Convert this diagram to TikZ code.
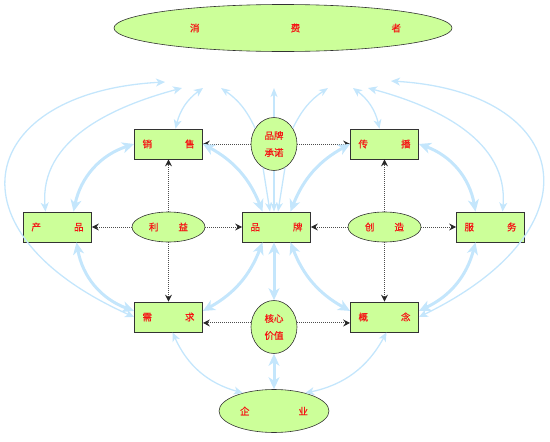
\documentclass[tikz,border=0pt]{standalone}
\usepackage{fontspec}
\newfontfamily\cjk[FakeBold=0.6]{Noto Sans CJK SC}
\usepackage{xcolor}
\usepackage{tikz}
\usetikzlibrary{positioning, arrows.meta, shapes.geometric}

\definecolor{leaf}{RGB}{204,255,153}
\definecolor{sky}{RGB}{196,230,252}
\definecolor{mark}{RGB}{245,20,20}
\newcommand{\pair}[3][52pt]{\makebox[#1]{#2\hfill #3}}

\begin{document}
\begin{tikzpicture}[
      x=1pt, y=-1pt, on grid,
      txt/.style={font=\cjk\fontsize{9.5}{17}\selectfont, text=mark},
      box/.style={txt, draw=black!80, line width=0.8pt, fill=leaf, minimum width=68pt, minimum height=30pt, inner sep=0pt},
      oval/.style={txt, ellipse, draw=black!80, line width=0.6pt, fill=leaf, minimum width=73pt, minimum height=30pt, inner sep=0pt},
      round/.style={oval, minimum width=46pt, minimum height=53pt, align=center},
      dotarr/.style={black!70, line width=0.9pt, dash pattern=on 1pt off 1pt, -{Stealth[length=7pt, width=7pt, inset=2.5pt, black!85]}},
      blink/.style={sky, line width=1.3pt, {Stealth[length=9pt, width=8pt, inset=2.5pt]}-{Stealth[length=9pt, width=8pt, inset=2.5pt]}},
      bray/.style={sky, line width=1.3pt, -{Stealth[length=9pt, width=7pt, inset=2.5pt]}},
      bbond/.style={sky, line width=3pt, {Stealth[length=12pt, width=11pt, inset=3.5pt]}-{Stealth[length=12pt, width=11pt, inset=3.5pt]}}
    ]
    \useasboundingbox (0,0) rectangle (550,442);

    \node[box] (pinpai) at (276.5,227) {\pair{品}{牌}};
    \node[oval, left=108pt of pinpai] (liyi) {\pair[39pt]{利}{益}};
    \node[oval, right=108pt of pinpai] (chuangzao) {\pair[39pt]{创}{造}};
    \node[box, left=111pt of liyi] (chanpin) {\pair{产}{品}};
    \node[box, right=106pt of chuangzao] (fuwu) {\pair{服}{务}};
    \node[box, above=83pt of liyi] (xiaoshou) {\pair{销}{售}};
    \node[box, above=83pt of chuangzao] (chuanbo) {\pair{传}{播}};
    \node[box, below=90pt of liyi] (xuqiu) {\pair{需}{求}};
    \node[box, below=90pt of chuangzao] (gainian) {\pair{概}{念}};
    \node[round, above left=83pt and 2.5pt of pinpai] (chengnuo) {品牌\\承诺};
    \node[round, below left=100pt and 2.5pt of pinpai] (hexin) {核心\\价值};
    \node[oval, minimum width=110pt, minimum height=43pt, below=84pt of hexin] (qiye) {\pair[68pt]{企}{业}};
    \node[oval, minimum width=338pt, minimum height=47pt, above right=116pt and 9pt of chengnuo] (xiaofei)
      {\hspace*{25pt}\pair[211pt]{消\hfill 费}{者}};

    % free ends below the consumer
    \coordinate (tA) at (165,82);
    \coordinate (tB) at (182,88);
    \coordinate (tC) at (203,88);
    \coordinate (tD) at (221,88);
    \coordinate (tE) at (274,88);
    \coordinate (tF) at (328,88);
    \coordinate (tG) at (353,88);
    \coordinate (tH) at (368,88);
    \coordinate (tI) at (391,81);

    % dotted arrows
    \draw[dotarr] (liyi) -- (xiaoshou);
    \draw[dotarr] (liyi) -- (chanpin);
    \draw[dotarr] (liyi) -- (pinpai);
    \draw[dotarr] (liyi) -- (xuqiu);
    \draw[dotarr] (chuangzao) -- (chuanbo);
    \draw[dotarr] (chuangzao) -- (fuwu);
    \draw[dotarr] (chuangzao) -- (pinpai);
    \draw[dotarr] (chuangzao) -- (gainian);
    \draw[dotarr] (chengnuo) -- (xiaoshou);
    \draw[dotarr] (chengnuo) -- (chuanbo);
    \draw[dotarr] (hexin.170) -- (hexin.170 -| xuqiu.east);
    \draw[dotarr] (hexin.10) -- (hexin.10 -| gainian.west);

    % thick links
    \draw[bbond] (xiaoshou.west) to[bend right=30] ([xshift=16pt]chanpin.north);
    \draw[bbond] ([xshift=19pt]chanpin.south) to[bend right=30] (xuqiu.170);
    \draw[bbond] (xiaoshou.east) to[bend left=20] ([xshift=-14pt]pinpai.north);
    \draw[bbond] ([xshift=14pt]pinpai.north) to[bend left=20] (chuanbo.west);
    \draw[bbond] (chuanbo.east) to[bend left=30] ([xshift=-15pt]fuwu.north);
    \draw[bbond] ([xshift=-14pt]pinpai.south) to[bend left=20] (xuqiu.10);
    \draw[bbond] ([xshift=14pt]pinpai.south) to[bend right=20] (gainian.170);
    \draw[bbond] ([xshift=-15pt]fuwu.south) to[bend left=25] (gainian.10);
    \draw[bbond] (hexin.north |- pinpai.south) -- (hexin.north);
    \draw[bbond] (hexin.south) -- (qiye.north);

    % thin links
    \draw[blink] (xuqiu.west) .. controls (-58,231) and (-22,92) .. (tA);
    \draw[blink] (gainian.east) .. controls (602,228) and (572,92) .. (tI);
    \draw[blink] ([xshift=-12pt]chanpin.north) to[out=95, in=195] (tB);
    \draw[blink] ([xshift=12pt]fuwu.north) to[out=85, in=-15] (tH);
    \draw[blink] ([xshift=7pt]xiaoshou.north) to[bend left=20] (tC);
    \draw[blink] ([xshift=-5pt]chuanbo.north) to[bend right=20] (tG);
    \draw[blink] ([xshift=4pt]xuqiu.south) to[bend right=25] (qiye.150);
    \draw[blink] ([xshift=2pt]gainian.south) to[bend left=25] (qiye.30);
    \draw[bray] (chengnuo.140) to[bend right=15] (tD);
    \draw[bray] (chengnuo.north) -- (tE);
    \draw[bray] (chengnuo.40) to[bend left=15] (tF);
    \draw[bray] (chengnuo.-115) -- ([xshift=-6.5pt]pinpai.north);
    \draw[bray] (chengnuo.south) -- ([xshift=-2.5pt]pinpai.north);
    \draw[bray] (chengnuo.-65) -- ([xshift=1.5pt]pinpai.north);
  \end{tikzpicture}
\end{document}
